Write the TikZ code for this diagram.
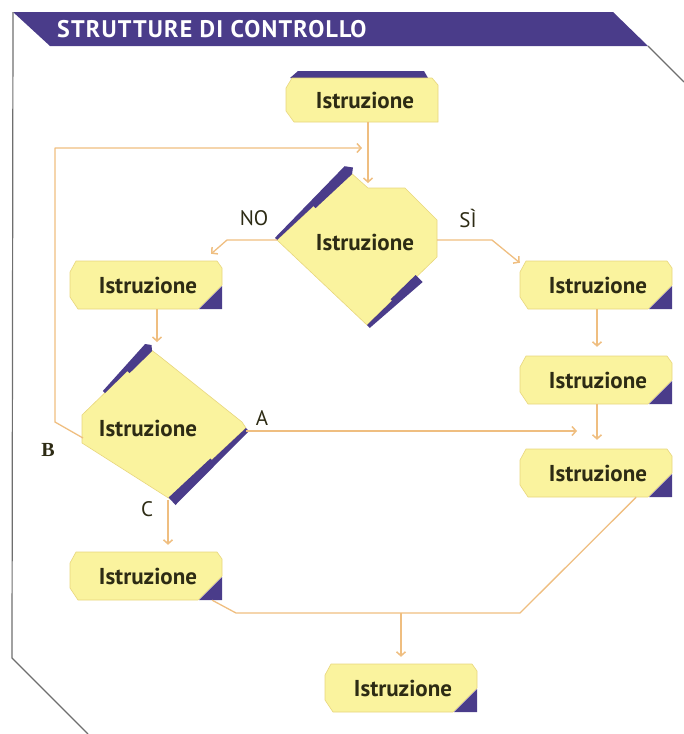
\documentclass[tikz,border=0pt]{standalone}
\usepackage{fontspec}
\setmainfont{PT Sans}
\newfontfamily\labelserif{Liberation Serif}
\newfontfamily\titlefont[LetterSpace=5]{PT Sans}
\usetikzlibrary{arrows.meta,calc}

\definecolor{bandpurple}{HTML}{4A3C8A}
\definecolor{boxyellow}{HTML}{FAF39E}
\definecolor{boxedge}{HTML}{E8D67E}
\definecolor{flowline}{HTML}{EFBE80}
\definecolor{inktext}{HTML}{2D2B14}
\definecolor{framegray}{HTML}{6E6E6E}

\tikzset{
  conn/.style={draw=flowline, line width=1.3pt, line join=round},
  arr/.style={conn, -{Straight Barb[length=4pt,width=9pt,line width=1.5pt]}},
  boxtext/.style={font=\bfseries\fontsize{23}{23}\selectfont, text=inktext,
                  minimum width=152pt, minimum height=48pt, inner sep=0pt},
  dtext/.style={font=\bfseries\fontsize{23}{23}\selectfont, text=inktext, inner sep=0pt},
  lbl/.style={font=\fontsize{21}{21}\selectfont, text=inktext, inner sep=0pt},
  bodyfill/.style={fill=boxyellow, draw=boxedge, line width=0.6pt},
  framestroke/.style={draw=framegray, line width=1.2pt},
}

% statement box: yellow body, folded purple corner bottom right
\newcommand\instrbox[3]{%
  \begin{scope}[shift={(#2,#3)}]
    \filldraw[bodyfill] (-70,-24) -- (71,-24) -- (76,-17) -- (76,0) -- (52,24)
      -- (-68,24) -- (-76,12) -- (-76,-13) -- cycle;
    \fill[bandpurple] (76,1) -- (76,24) -- (53,24) -- cycle;
  \end{scope}
  \node[boxtext] (#1) at (#2+2,#3) {Istruzione};
}

% statement box with the purple band along its top edge
\newcommand\startbox[3]{%
  \begin{scope}[shift={(#2,#3)}]
    \fill[bandpurple] (-72,-22) -- (-64,-29) -- (62,-29) -- (66,-22) -- cycle;
    \filldraw[bodyfill] (-70,-22) -- (70,-22) -- (76,-15) -- (76,22)
      -- (-68,22) -- (-76,11) -- (-76,-12) -- cycle;
  \end{scope}
  \node[boxtext, minimum height=44pt] (#1) at (#2+3,#3) {Istruzione};
}

\begin{document}
\begin{tikzpicture}[x=1pt, y=-1pt]
  \useasboundingbox (0,0) rectangle (684,734);

  % title band and frame
  \fill[bandpurple] (13,12) -- (613,12) -- (648,46) -- (50,46) -- cycle;
  \node[anchor=west, text=white, font=\titlefont\bfseries\fontsize{24}{24}\selectfont, inner sep=0pt]
    (title) at (57,29) {STRUTTURE DI CONTROLLO};
  \draw[framestroke] (13,12) -- (12,658) -- (88,734);
  \draw[framestroke] (648,46) -- (684,82);

  % statement boxes
  \startbox{T}{362}{100}
  \instrbox{L1}{146}{285}
  \instrbox{R1}{596}{285}
  \instrbox{R2}{596}{380}
  \instrbox{R3}{596}{473}
  \instrbox{L3}{146}{576}
  \instrbox{E}{401}{688}

  % first decision
  \filldraw[bodyfill] (277,240) -- (350,172) -- (368,188) -- (405,188) -- (437,220)
    -- (437,257) -- (367,325) -- cycle;
  \fill[bandpurple] (277,240) -- (275,237.8) -- (344.6,166.2) -- (353,167.5)
    -- (352,174.2) -- (315.5,208.2) -- (313.5,206) -- cycle;
  \fill[bandpurple] (367,325) -- (369.8,327.9) -- (422.6,282.1) -- (415.6,275)
    -- (390.6,299.3) -- (392,300.7) -- cycle;
  \node[dtext] (D1) at (365,242) {Istruzione};

  % second decision
  \filldraw[bodyfill] (82,415) -- (150,349) -- (158,355) -- (242,422) -- (246,428)
    -- (170,499) -- (82,443) -- cycle;
  \fill[bandpurple] (105,393) -- (102.9,390.9) -- (145.1,344) -- (151.5,345)
    -- (152.1,351.1) -- (129.6,373.1) -- (127.5,371) -- cycle;
  \fill[bandpurple] (246,428) -- (249,431) -- (175.5,505) -- (168.6,497.5)
    -- (210.4,458.5) -- (211.8,460) -- cycle;
  \node[dtext] (D2) at (148,428) {Istruzione};

  % connection points on the decisions
  \coordinate (d1n) at (368,183);
  \coordinate (d1w) at (277,240);
  \coordinate (d1e) at (437,240);
  \coordinate (d2n) at (157,343);
  \coordinate (d2w) at (83,438);
  \coordinate (d2e) at (246,431);
  \coordinate (d2s) at (168,500);
  \coordinate (loopin) at (362,148);
  \coordinate (ain) at (577,431);
  \coordinate (merge) at (401,613);

  % connectors
  \draw[arr] (T.south -| d1n) -- (d1n);
  \draw[arr] (d2w) -- (55,422) -- (55,148) -- (loopin);
  \draw[arr] (d1w) -- (227,240) -- ($(L1.north east)+(-13,-7)$);
  \draw[arr] (d1e) -- (492,240) -- ($(R1.north west)+(-2,2)$);
  \draw[arr, shorten >=1pt] (L1.south -| d2n) -- (d2n);
  \draw[arr] (d2e) -- (ain);
  \draw[arr, shorten >=7pt] (d2s) -- (L3.north -| d2s);
  \draw[arr, shorten >=9pt] ($(R1.south)+(-1,0)$) -- ($(R2.north)+(-1,0)$);
  \draw[arr, shorten >=9pt] ($(R2.south)+(-1,0)$) -- ($(R3.north)+(-1,0)$);
  \draw[conn] ($(L3.south east)+(-12,0)$) -- (236,613) -- (520,613)
    -- ($(R3.south east)+(-38,0)$);
  \draw[arr, shorten >=7pt] (merge) -- (E.north -| merge);

  % branch labels
  \node[lbl] (lno) at (254,218) {NO};
  \node[lbl] (lsi) at (468,218) {SÌ};
  \node[lbl] (la) at (262,418) {A};
  \node[lbl, font=\labelserif\bfseries\fontsize{20}{20}\selectfont] (lb) at (48,450) {B};
  \node[lbl] (lc) at (147,509) {C};
\end{tikzpicture}
\end{document}
